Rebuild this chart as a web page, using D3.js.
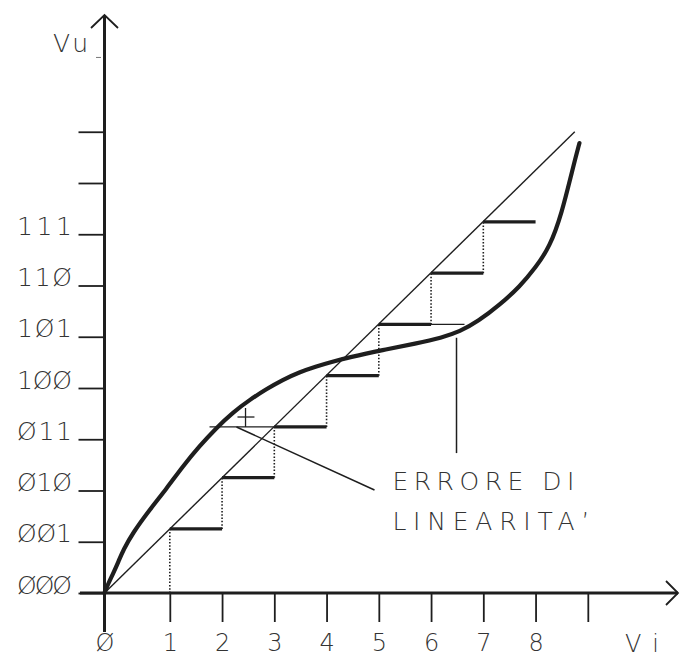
<!DOCTYPE html>
<html><head><meta charset="utf-8">
<script src="https://cdn.jsdelivr.net/npm/d3@7"></script>
<style>
body{margin:0;background:#fff}
text{font-family:"DejaVu Sans",sans-serif;font-weight:200;fill:#333}
</style>
</head><body>
<svg id="c" width="680" height="659"></svg>
<script>
// ---- data ----
const xTickValues = [-0.25, 1, 2, 3, 4, 5, 6, 7, 8, 9];
const xTickLabels = ["Ø", "1", "2", "3", "4", "5", "6", "7", "8", ""];
const yTickValues = [0, 1, 2, 3, 4, 5, 6, 7, 8, 9];
const yTickLabels = ["ØØØ", "ØØ1", "Ø1Ø", "Ø11", "1ØØ", "1Ø1", "11Ø", "111", "", ""];
// staircase (ideal quantizer): step start on Vi, output level on Vu
const stepStarts = [1, 2, 3, 4, 5, 6, 7];
const stepLevels = [1.25, 2.25, 3.24, 4.24, 5.24, 6.24, 7.24];
// ideal straight characteristic
const idealVi = [-0.25, 8.75];
const idealVu = [0, 9.0];
// real (non-linear) characteristic
const realVi = [-0.25, -0.18, -0.08, 0.02, 0.11, 0.29, 0.61, 0.94, 1.24, 1.57, 1.89, 2.20, 2.53, 2.85, 3.16, 3.48, 3.80, 4.06, 4.44, 5.07, 5.72, 6.20, 6.55, 6.90, 7.31, 7.70, 8.00, 8.27, 8.50, 8.71, 8.84];
const realVu = [0, 0.18, 0.39, 0.62, 0.84, 1.17, 1.62, 2.04, 2.46, 2.87, 3.22, 3.52, 3.77, 3.98, 4.16, 4.31, 4.42, 4.50, 4.60, 4.74, 4.87, 4.98, 5.10, 5.30, 5.62, 5.98, 6.35, 6.75, 7.40, 8.28, 8.78];
// annotation
const noteLines = ["ERRORE DI", "LINEARITA’"];
const axisNames = ["Vi", "Vu"];

// ---- scales ----
const X0 = 104.5, Y0 = 593, UX = 52.25, UY = 51.25;
const x = d3.scaleLinear().domain([-0.25, 10.25]).range([X0, X0 + 10.5 * UX]);
const y = d3.scaleLinear().domain([0, 11]).range([Y0, Y0 - 11 * UY]);

const svg = d3.select("#c");
const ink = "#1e1e1e";

// ---- axes (ticks + labels) ----
const xAxis = d3.axisBottom(x).tickValues(xTickValues)
  .tickFormat((d, i) => xTickLabels[i]).tickSize(29).tickPadding(12);
const gx = svg.append("g").attr("transform", `translate(0,${Y0})`).call(xAxis);
gx.select(".domain").remove();
gx.selectAll(".tick line").attr("stroke", ink).attr("stroke-width", 1.8)
  .filter((d) => d < 0).remove();
gx.selectAll(".tick text").attr("font-size", 24).attr("fill", "#333")
  .attr("font-family", "DejaVu Sans").attr("font-weight", 200);

const yAxis = d3.axisLeft(y).tickValues(yTickValues)
  .tickFormat((d, i) => yTickLabels[i]).tickSize(26).tickPadding(6);
const gy = svg.append("g").attr("transform", `translate(${X0},0)`).call(yAxis);
gy.select(".domain").remove();
gy.selectAll(".tick line").attr("stroke", ink).attr("stroke-width", 1.8);
gy.selectAll(".tick text").attr("font-size", 25).attr("dy", 0).attr("fill", "#333")
  .attr("font-family", "DejaVu Sans").attr("font-weight", 200)
  .attr("text-anchor", "start").attr("x", 17 - X0)
  .filter(function () { return this.textContent.length > 0; })
  .attr("textLength", 55).attr("lengthAdjust", "spacing");

// axis lines with arrows
svg.append("line").attr("x1", 80).attr("x2", 678).attr("y1", Y0).attr("y2", Y0)
  .attr("stroke", ink).attr("stroke-width", 3);
svg.append("line").attr("x1", X0).attr("x2", X0).attr("y1", 632).attr("y2", 15)
  .attr("stroke", ink).attr("stroke-width", 3);
svg.append("path").attr("d", `M666,581L678,${Y0}L666,605`).attr("fill", "none")
  .attr("stroke", ink).attr("stroke-width", 1.8);
svg.append("path").attr("d", `M91,28L${X0},15L118,28`).attr("fill", "none")
  .attr("stroke", ink).attr("stroke-width", 1.8);

// axis names
svg.append("text").attr("x", 625).attr("y", 652).attr("font-size", 24)
  .attr("textLength", 34).attr("lengthAdjust", "spacing").text(axisNames[0]);
svg.append("text").attr("x", 53).attr("y", 52).attr("font-size", 25)
  .attr("textLength", 35).attr("lengthAdjust", "spacing").text(axisNames[1]);
svg.append("line").attr("x1", 96).attr("x2", 101).attr("y1", y(10.45)).attr("y2", y(10.45))
  .attr("stroke", "#777").attr("stroke-width", 1);

// ---- ideal diagonal ----
svg.append("line")
  .attr("x1", x(idealVi[0])).attr("y1", y(idealVu[0]))
  .attr("x2", x(idealVi[1])).attr("y2", y(idealVu[1]))
  .attr("stroke", ink).attr("stroke-width", 1.4);

// ---- staircase ----
stepStarts.forEach((s, i) => {
  const lv = stepLevels[i];
  const prev = i === 0 ? 0 : stepLevels[i - 1];
  svg.append("line").attr("x1", x(s)).attr("x2", x(s)).attr("y1", y(prev)).attr("y2", y(lv))
    .attr("stroke", ink).attr("stroke-width", 1.6).attr("stroke-dasharray", "1.5,1.8");
  svg.append("line").attr("x1", x(s)).attr("x2", x(s + 1)).attr("y1", y(lv)).attr("y2", y(lv))
    .attr("stroke", ink).attr("stroke-width", 3.2);
});

// ---- real curve ----
const realPts = realVi.map((v, i) => [v, realVu[i]]);
svg.append("path").datum(realPts)
  .attr("d", d3.line().x(d => x(d[0])).y(d => y(d[1])).curve(d3.curveBasis))
  .attr("fill", "none").attr("stroke", ink).attr("stroke-width", 4.2)
  .attr("stroke-linecap", "round");

// ---- error annotation ----
const thin = (x1, y1, x2, y2, w) => svg.append("line")
  .attr("x1", x(x1)).attr("y1", y(y1)).attr("x2", x(x2)).attr("y2", y(y2))
  .attr("stroke", ink).attr("stroke-width", w || 1.3);
thin(1.76, stepLevels[2], 3.0, stepLevels[2]);
thin(6.0, stepLevels[4], 6.64, stepLevels[4]);
thin(2.449, 3.24, 2.449, 3.61);           // "+" mark
thin(2.295, 3.434, 2.62, 3.434);
thin(2.276, 3.24, 4.917, 2.01, 1.5);      // pointer
thin(6.487, 4.98, 6.487, 2.73, 1.5);      // vertical pointer

const noteLen = [182, 197];
svg.selectAll("text.note").data(noteLines).enter().append("text")
  .attr("class", "note")
  .attr("x", x(5.26)).attr("y", (d, i) => y(2.01) + i * 40)
  .attr("font-size", 25)
  .attr("textLength", (d, i) => noteLen[i]).attr("lengthAdjust", "spacing")
  .text(d => d);
</script>
</body></html>
